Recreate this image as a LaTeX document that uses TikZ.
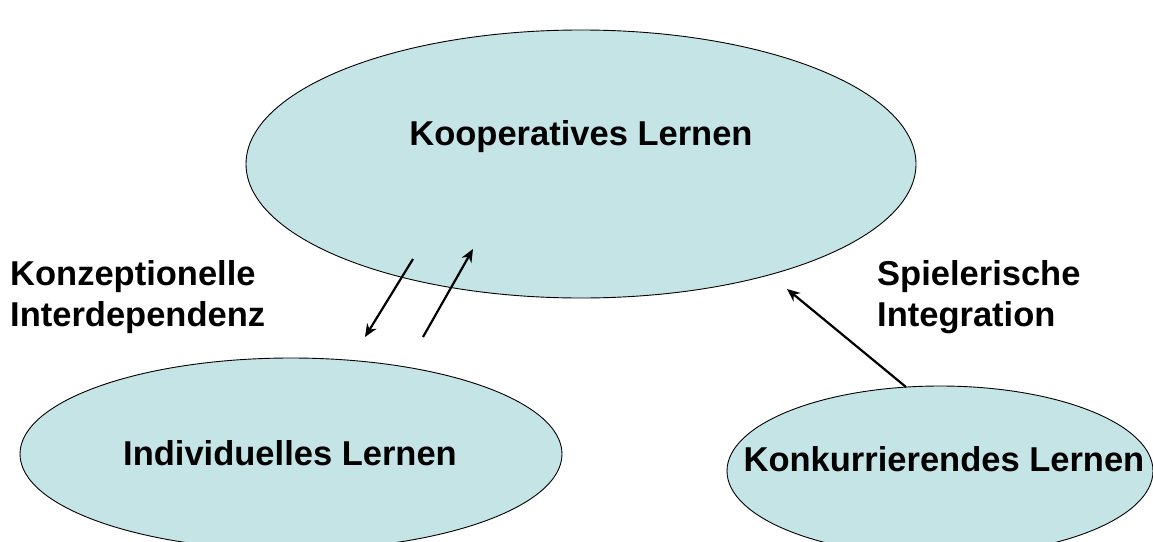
\documentclass[tikz,border=0pt]{standalone}
\usepackage{fontspec}
\setmainfont{Liberation Sans}
\usetikzlibrary{shapes.geometric,arrows.meta}
\definecolor{ellfill}{RGB}{196,228,230}
\tikzset{
  oval/.style={ellipse, draw=black, line width=0.9pt, fill=ellfill, inner sep=0pt},
  lbl/.style={font=\bfseries\fontsize{34.5}{41}\selectfont, inner sep=0pt},
  side/.style={font=\bfseries\fontsize{34.5}{41}\selectfont, inner sep=0pt, align=left, anchor=base west},
  conn/.style={line width=2.2pt, -{Stealth[length=13pt,width=11pt]}}
}
\begin{document}
\begin{tikzpicture}[x=1pt,y=-1pt]
\useasboundingbox (0,0) rectangle (1153,541);
\clip (0,0) rectangle (1153,541);
\node[oval, minimum width=670pt, minimum height=268pt] (koop) at (581,164) {};
\node[oval, minimum width=542pt, minimum height=192pt] (indiv) at (291,454) {};
\node[oval, minimum width=426pt, minimum height=170pt] (konk) at (940,471) {};
\node[lbl] (tkoop) at (581,137) {Kooperatives Lernen};
\node[lbl] (tindiv) at (290,453) {Individuelles Lernen};
\node[lbl] (tkonk) at (944,459) {Konkurrierendes Lernen};
\node[side] (konz) at (10,326) {Konzeptionelle\\Interdependenz};
\node[side] (spiel) at (877,326) {Spielerische\\Integration};
\coordinate (a1s) at (413,259);
\coordinate (a1e) at (365,337);
\coordinate (a2s) at (423,337);
\coordinate (a2e) at (473,249);
\coordinate (a3s) at (906,387);
\coordinate (a3e) at (787,289);
\draw[conn] (a1s) -- (a1e);
\draw[conn] (a2s) -- (a2e);
\draw[conn] (a3s) -- (a3e);
\end{tikzpicture}
\end{document}
